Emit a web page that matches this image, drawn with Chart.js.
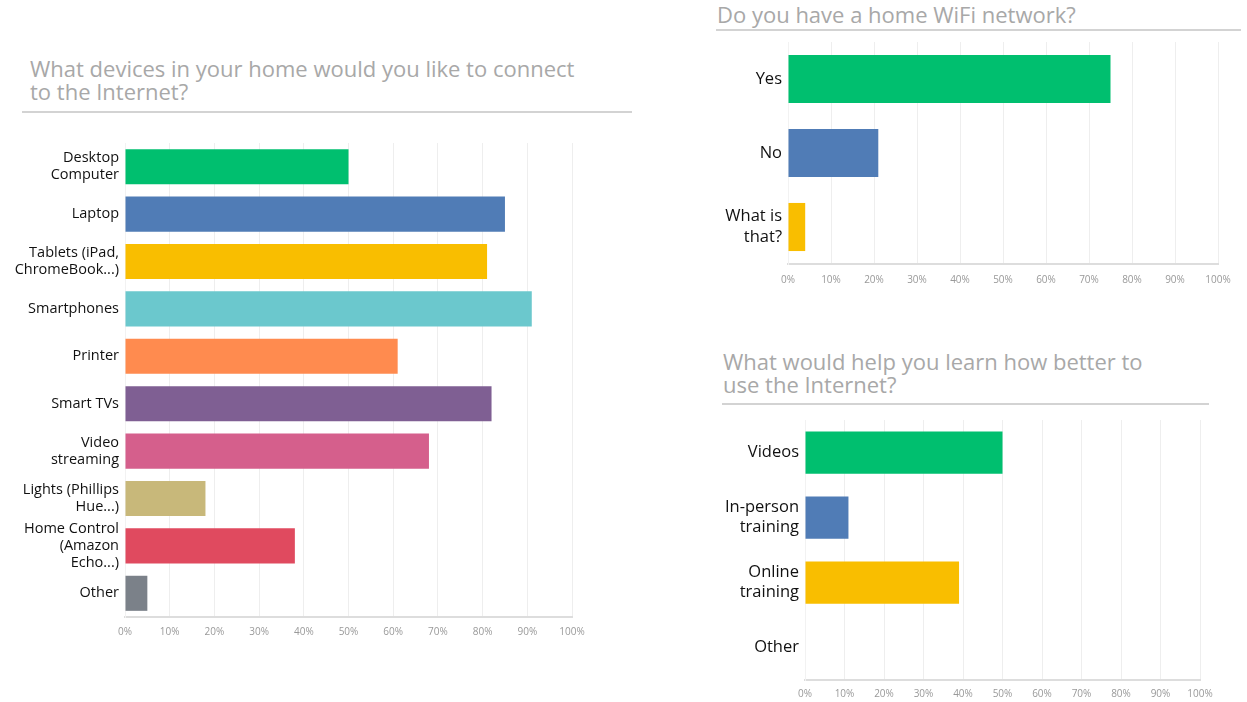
<!DOCTYPE html>
<html>
<head>
<meta charset="utf-8">
<script src="https://cdn.jsdelivr.net/npm/chart.js@4/dist/chart.umd.min.js"></script>
<style>
  body { margin: 0; background: #fff; width: 1247px; height: 702px; position: relative; overflow: hidden; font-family: "Open Sans", "Noto Sans", sans-serif; }
  .title { position: absolute; color: #a8a8a8; font-size: 22px; line-height: 23px; border-bottom: 2px solid #d3d3d3; }
  .box { position: absolute; }
</style>
</head>
<body>
<div class="title" style="left:22px; top:57px; width:602px; padding:0 0 8px 8px;">What devices in your home would you like to connect<br>to the Internet?</div>
<div class="title" style="left:716px; top:3px; width:524px; padding:0 0 3px 1px;">Do you have a home WiFi network?</div>
<div class="title" style="left:722px; top:350px; width:486px; padding:0 0 7px 1px;">What would help you learn how better to<br>use the Internet?</div>

<div class="box" style="left:0; top:138px; width:600px; height:504px;"><canvas id="c1"></canvas></div>
<div class="box" style="left:700px; top:38px; width:547px; height:250px;"><canvas id="c2"></canvas></div>
<div class="box" style="left:700px; top:415px; width:530px; height:287px;"><canvas id="c3"></canvas></div>

<script>
// chart 1: devices
const deviceLabels = [["Desktop", "Computer"], "Laptop", ["Tablets (iPad,", "ChromeBook...)"], "Smartphones", "Printer", "Smart TVs", ["Video", "streaming"], ["Lights (Phillips", "Hue...)"], ["Home Control", "(Amazon", "Echo...)"], "Other"];
const deviceValues = [50, 85, 81, 91, 61, 82, 68, 18, 38, 5];
const deviceColors = ["#00bf6f", "#507cb6", "#f9be00", "#6bc8cd", "#ff8b4f", "#7f5f93", "#d55f8c", "#c8b87a", "#e04a5f", "#7b8189"];

// chart 2: wifi
const wifiLabels = ["Yes", "No", ["What is", "that?"]];
const wifiValues = [75, 21, 4];
const wifiColors = ["#00bf6f", "#507cb6", "#f9be00"];

// chart 3: learning
const learnLabels = ["Videos", ["In-person", "training"], ["Online", "training"], "Other"];
const learnValues = [50, 11, 39, 0];
const learnColors = ["#00bf6f", "#507cb6", "#f9be00", "#7b8189"];

const pctTicks = [0, 10, 20, 30, 40, 50, 60, 70, 80, 90, 100];

function makeChart(id, labels, values, colors, opts) {
  new Chart(document.getElementById(id), {
    type: "bar",
    data: {
      labels: labels,
      datasets: [{
        data: values,
        backgroundColor: colors,
        borderWidth: 0,
        barPercentage: opts.bar,
        categoryPercentage: 1
      }]
    },
    options: {
      indexAxis: "y",
      responsive: true,
      maintainAspectRatio: false,
      animation: false,
      layout: { padding: { top: opts.top, right: opts.right, left: 0, bottom: 0 } },
      plugins: { legend: { display: false }, tooltip: { enabled: false } },
      scales: {
        x: {
          min: 0,
          max: 100,
          afterBuildTicks: (s) => { s.ticks = pctTicks.map(v => ({ value: v })); },
          afterFit: (s) => { s.height = opts.xh; s.paddingLeft = 0; s.paddingRight = 0; },
          grid: { color: "#eeeeee", drawTicks: false },
          border: { color: "#dddddd", width: 2 },
          ticks: {
            padding: opts.tpad,
            color: "#999999",
            font: { family: "Open Sans", size: 10 },
            maxRotation: 0,
            callback: (v) => v + "%"
          }
        },
        y: {
          afterFit: (s) => { s.width = opts.yw; s.paddingTop = 0; s.paddingBottom = 0; },
          grid: { display: false, drawTicks: false },
          border: { color: "#f2f2f2" },
          ticks: {
            autoSkip: false,
            padding: 6,
            color: "#111111",
            font: { family: "Open Sans", size: opts.fs, lineHeight: opts.lh }
          }
        }
      }
    }
  });
}

makeChart("c1", deviceLabels, deviceValues, deviceColors, { bar: 0.74, top: 5, right: 28, xh: 25, yw: 125, fs: 14.5, lh: 1.18, tpad: 9 });
makeChart("c2", wifiLabels, wifiValues, wifiColors, { bar: 0.65, top: 4, right: 29, xh: 24, yw: 88, fs: 16.5, lh: 1.28, tpad: 10 });
makeChart("c3", learnLabels, learnValues, learnColors, { bar: 0.65, top: 5, right: 30, xh: 22, yw: 105, fs: 16.5, lh: 1.2, tpad: 8 });
</script>
</body>
</html>
